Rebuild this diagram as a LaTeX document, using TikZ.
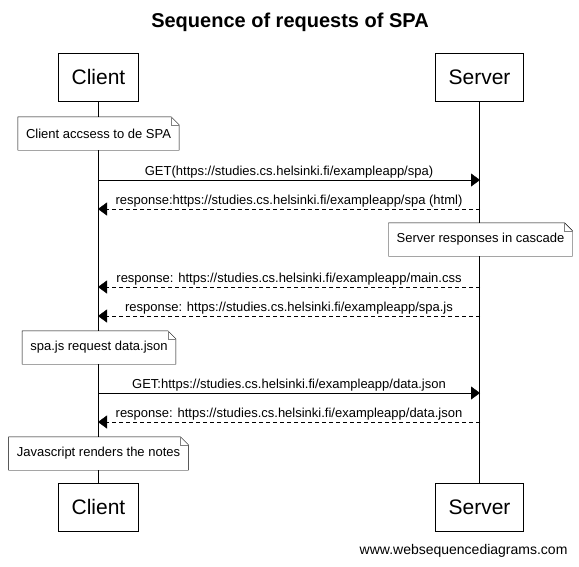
\documentclass[tikz,border=0pt]{standalone}
\usepackage{fontspec}
\setmainfont{Liberation Sans}
\usetikzlibrary{arrows.meta,positioning}

\tikzset{
    actor/.style={draw, fill=white, inner xsep=13pt, minimum height=48pt,
        font=\fontsize{21}{25}\selectfont},
    note/.style={fill=white, inner xsep=8pt, minimum height=33pt,
        font=\fontsize{13}{15}\selectfont},
    msg/.style={-{Triangle[length=9pt,width=13pt]}},
    reply/.style={msg, dash pattern=on 4pt off 3pt},
    lbl/.style={above, inner sep=1.5pt, font=\fontsize{13}{15}\selectfont}
}
% folded corner round a note
\newcommand\notefold[1]{
    \draw (#1.south west) -- (#1.north west) -- ([xshift=-8pt]#1.north east)
        -- ([yshift=-8pt]#1.north east) -- (#1.south east) -- cycle;
    \draw[gray] ([xshift=-8pt]#1.north east) -- ([xshift=-8pt,yshift=-8pt]#1.north east)
        -- ([yshift=-8pt]#1.north east);
}

\begin{document}
\begin{tikzpicture}[x=1pt,y=-1pt]
\useasboundingbox (0,0) rectangle (579,566);

\node[font=\fontsize{20}{24}\selectfont\bfseries] (title) at (290,22) {Sequence of requests of SPA};

\node[actor] (clientTop) at (98.5,77) {Client};
\node[actor] (serverTop) at (479.5,77) {Server};
\node[actor] (clientBot) at (98.5,507) {Client};
\node[actor] (serverBot) at (479.5,507) {Server};

% lifelines
\draw (clientTop) -- (clientBot);
\draw (serverTop) -- (serverBot);

\foreach \n/\y in {1/180,2/209,3/287,4/316,5/393,6/422} {
    \coordinate (c\n) at (98,\y);
    \coordinate (s\n) at (480,\y);
}

\node[note] (accessNote) at (98.5,133.5) {Client accsess to de SPA};
\notefold{accessNote}
\node[note] (cascadeNote) at (480.5,239.5) {Server responses in cascade};
\notefold{cascadeNote}
\node[note] (jsonNote) at (99,347.5) {spa.js request data.json};
\notefold{jsonNote}
\node[note] (renderNote) at (98.5,453.5) {Javascript renders the notes};
\notefold{renderNote}

\draw[msg] (c1) -- node[lbl] {GET(https://studies.cs.helsinki.fi/exampleapp/spa)} (s1);
\draw[reply] (s2) -- node[lbl] {response:https://studies.cs.helsinki.fi/exampleapp/spa (html)} (c2);
\draw[reply] (s3) -- node[lbl] {response: https://studies.cs.helsinki.fi/exampleapp/main.css} (c3);
\draw[reply] (s4) -- node[lbl] {response: https://studies.cs.helsinki.fi/exampleapp/spa.js} (c4);
\draw[msg] (c5) -- node[lbl] {GET:https://studies.cs.helsinki.fi/exampleapp/data.json} (s5);
\draw[reply] (s6) -- node[lbl] {response: https://studies.cs.helsinki.fi/exampleapp/data.json} (c6);

\node[anchor=east, font=\fontsize{14}{17}\selectfont] (site) at (571,551) {www.websequencediagrams.com};

\end{tikzpicture}
\end{document}
